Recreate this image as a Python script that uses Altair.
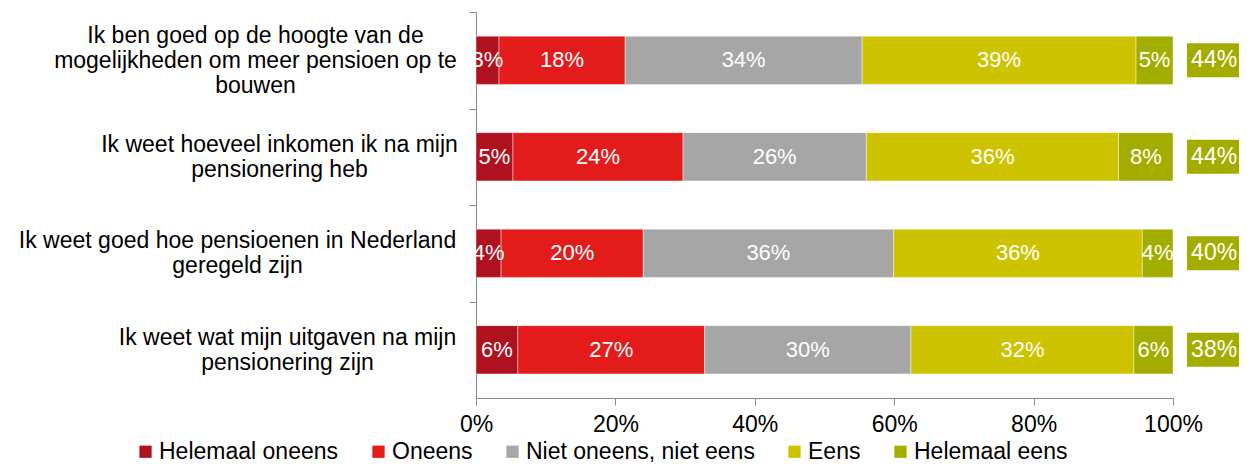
import altair as alt
import pandas as pd

# ---- data ----
questions = [
    "Ik ben goed op de hoogte van de|mogelijkheden om meer pensioen op te|bouwen",
    "Ik weet hoeveel inkomen ik na mijn|pensionering heb",
    "Ik weet goed hoe pensioenen in Nederland|geregeld zijn",
    "Ik weet wat mijn uitgaven na mijn|pensionering zijn",
]
answers = ["Helemaal oneens", "Oneens", "Niet oneens, niet eens", "Eens", "Helemaal eens"]
colors = ["#B0111F", "#E31B1B", "#A6A6A6", "#CEC300", "#A3AD00"]

helemaal_oneens = [3.3, 5.3, 3.6, 6.0]
oneens = [18.1, 24.4, 20.4, 26.8]
neutraal = [34.0, 26.3, 35.9, 29.6]
eens = [39.3, 36.2, 35.7, 32.0]
helemaal_eens = [5.3, 7.8, 4.4, 5.6]
totaal_eens = [44, 44, 40, 38]

series = [helemaal_oneens, oneens, neutraal, eens, helemaal_eens]

rows = []
for qi, q in enumerate(questions):
    for ai, a in enumerate(answers):
        rows.append({"question": q, "answer": a, "order": ai, "value": series[ai][qi]})
df = pd.DataFrame(rows)
tot_df = pd.DataFrame({"question": questions, "total": totaal_eens})

FONT = "Liberation Sans"

# styling: per-label padding so each multi-line block ends near the axis with centred lines
pads = [214, 190, 232, 182]
half_step = 48.25
line_h = 25
pad_cond = {
    "condition": [{"test": f"datum.value == '{q}'", "value": p} for q, p in zip(questions, pads)],
    "value": 200,
}
off_cond = {
    "condition": [
        {"test": f"datum.value == '{q}'", "value": half_step - (len(q.split('|')) - 1) * line_h / 2}
        for q in questions
    ],
    "value": half_step,
}

xscale = alt.Scale(domain=[0, 100], nice=False, zero=True)
yscale = alt.Scale(domain=questions, paddingInner=0.5, paddingOuter=0.25)

xaxis = alt.Axis(
    title=None, values=[0, 20, 40, 60, 80, 100], labelExpr="datum.value + '%'",
    grid=False, labelFont=FONT, labelFontSize=23, labelColor="black", labelFlush=False,
    domainColor="#888888", tickColor="#888888", tickSize=7, labelPadding=8,
)
yaxis = alt.Axis(
    title=None, labelExpr="split(datum.label, '|')", labelAlign="center",
    labelPadding=pad_cond, labelOffset=off_cond, tickOffset=-half_step,
    labelLimit=0, labelFont=FONT, labelFontSize=23,
    labelColor="black", labelLineHeight=line_h, domainColor="#888888",
    tickColor="#888888", tickSize=7, grid=False,
)

base = alt.Chart(df).transform_stack(
    stack="value", groupby=["question"], as_=["x0", "x1"],
    sort=[alt.SortField("order", order="ascending")],
).transform_calculate(
    mid="(datum.x0 + datum.x1) / 2",
    label="format(datum.value, '.0f') + '%'",
)

y_enc = alt.Y("question:N", sort=questions, scale=yscale, axis=yaxis)

bars = base.mark_bar(stroke="white", strokeWidth=0.7, strokeOpacity=0.6).encode(
    x=alt.X("x0:Q", scale=xscale, axis=xaxis),
    x2="x1:Q",
    y=y_enc,
    color=alt.Color(
        "answer:N",
        scale=alt.Scale(domain=answers, range=colors),
        legend=alt.Legend(
            title=None, orient="none", legendX=-342, legendY=428,
            direction="horizontal", symbolType="square", symbolSize=150,
            symbolStrokeWidth=0, labelFont=FONT, labelFontSize=23,
            labelColor="black", columnPadding=28, labelOffset=2, labelLimit=0,
        ),
    ),
    order=alt.Order("order:Q"),
)

seg_text = base.mark_text(color="white", font=FONT, fontSize=22).encode(
    x=alt.X("mid:Q", scale=xscale),
    y=alt.Y("question:N", sort=questions),
    text="label:N",
)

boxes = alt.Chart(tot_df).mark_bar(size=34, color="#A3AD00").encode(
    x=alt.datum(102.0),
    x2=alt.datum(111.5),
    y=alt.Y("question:N", sort=questions),
)

box_text = alt.Chart(tot_df).transform_calculate(
    label="datum.total + '%'"
).mark_text(color="white", font=FONT, fontSize=23).encode(
    x=alt.datum(105.9),
    y=alt.Y("question:N", sort=questions),
    text="label:N",
)

chart = alt.layer(bars, seg_text, boxes, box_text).properties(
    width=697, height=386,
    padding={"left": 468, "top": 4, "right": 66, "bottom": 70},
    autosize=alt.AutoSizeParams(type="none"),
).configure(font=FONT).configure_view(stroke=None)

chart.save("out.html", embed_options={"renderer": "svg", "actions": False})
